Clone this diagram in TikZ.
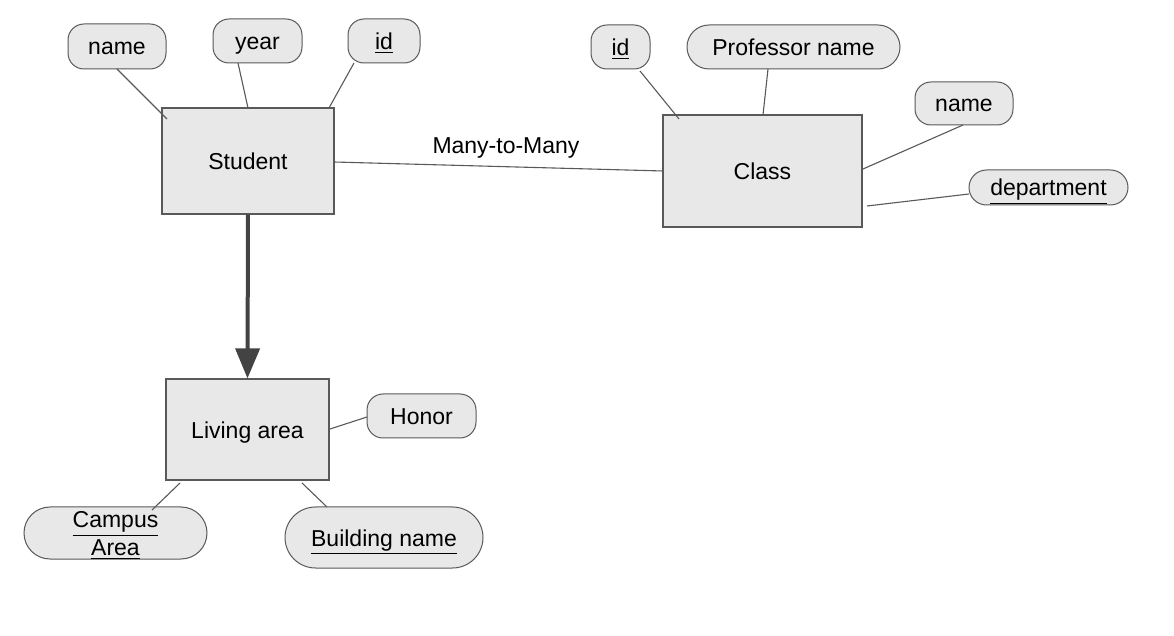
\documentclass[tikz,border=0pt]{standalone}
\usepackage{fontspec}
\setmainfont{Liberation Sans}
\usetikzlibrary{arrows.meta}
\definecolor{boxfill}{HTML}{E8E8E8}
\definecolor{edge}{HTML}{595959}
\definecolor{arrowc}{HTML}{434343}
\begin{document}
\begin{tikzpicture}[x=0.5pt,y=-0.5pt,
  every node/.style={font=\fontsize{11.5}{14}\selectfont, text=black, text height=10pt, text depth=1.5pt},
  entity/.style={draw=edge, line width=0.6pt, fill=boxfill, rectangle, inner sep=0pt},
  attr/.style={draw=edge, line width=0.5pt, fill=boxfill, rectangle, inner sep=0pt, rounded corners=8pt},
  pill/.style={draw=edge, line width=0.5pt, fill=boxfill, rectangle, inner sep=0pt, rounded corners=#1},
  link/.style={draw=edge, line width=0.55pt},
  isa/.style={draw=arrowc, line width=2pt, -{Triangle[width=12pt,length=15pt]}}
]
\useasboundingbox (0,0) rectangle (1174,636);
\fill[white] (0,0) rectangle (1174,636);

% entities
\node[entity, minimum width=86pt, minimum height=53pt] (student) at (248,161) {Student};
\node[entity, minimum width=99.5pt, minimum height=56pt] (class) at (762.5,171) {Class};
\node[entity, minimum width=81.5pt, minimum height=50.5pt] (living) at (247.5,429.5) {Living area};

% student attributes
\node[attr, minimum width=49pt, minimum height=22.5pt] (sname) at (117,46.5) {name};
\node[attr, minimum width=44.5pt, minimum height=22pt] (year) at (257.5,41) {year};
\node[attr, minimum width=36pt, minimum height=22pt] (sid) at (384,41) {\underline{id}};

% class attributes
\node[attr, minimum width=29.5pt, minimum height=22pt] (cid) at (620.5,47) {\underline{id}};
\node[pill=11pt, minimum width=106.5pt, minimum height=22pt] (prof) at (793.5,47) {Professor name};
\node[attr, minimum width=49pt, minimum height=21.5pt] (cname) at (964,103.5) {name};
\node[pill=8.75pt, minimum width=79.5pt, minimum height=17.5pt] (dept) at (1048.5,187.5) {\underline{department}};

% living area attributes
\node[attr, minimum width=54.5pt, minimum height=22pt] (honor) at (421.5,416) {Honor};
\node[pill=13pt, minimum width=91.5pt, minimum height=26pt, align=center, text height=24pt, text depth=1.5pt] (campus) at (115.5,533) {\underline{Campus}\\\underline{Area}};
\node[pill=15.25pt, minimum width=99pt, minimum height=30.5pt] (building) at (384,537.5) {\underline{Building name}};

% connector end points
\coordinate (a1) at (117,69);   \coordinate (b1) at (167,119);
\coordinate (a2) at (238,63);   \coordinate (b2) at (248,108);
\coordinate (a3) at (354,63);   \coordinate (b3) at (329,108);
\coordinate (a4) at (640,71);   \coordinate (b4) at (679,119);
\coordinate (a5) at (768,69);   \coordinate (b5) at (763,115);
\coordinate (a6) at (963,125);  \coordinate (b6) at (863,169);
\coordinate (a7) at (969,194);  \coordinate (b7) at (867,206);
\coordinate (m1) at (334,162);  \coordinate (m2) at (663,171);
\coordinate (a8) at (367,417);  \coordinate (b8) at (330,429);
\coordinate (a9) at (180,483);  \coordinate (b9) at (152,510);
\coordinate (a10) at (302,483); \coordinate (b10) at (327,507);

\draw[link] (a1) -- (b1);
\draw[link] (a2) -- (b2);
\draw[link] (a3) -- (b3);
\draw[link] (a4) -- (b4);
\draw[link] (a5) -- (b5);
\draw[link] (a6) -- (b6);
\draw[link] (a7) -- (b7);
\draw[link] (m1) -- (m2);
\draw[link] (a8) -- (b8);
\draw[link] (a9) -- (b9);
\draw[link] (a10) -- (b10);

\node (rel) at (506,145) {Many-to-Many};

\draw[isa] (student.south) -- (living.north);
\end{tikzpicture}
\end{document}
